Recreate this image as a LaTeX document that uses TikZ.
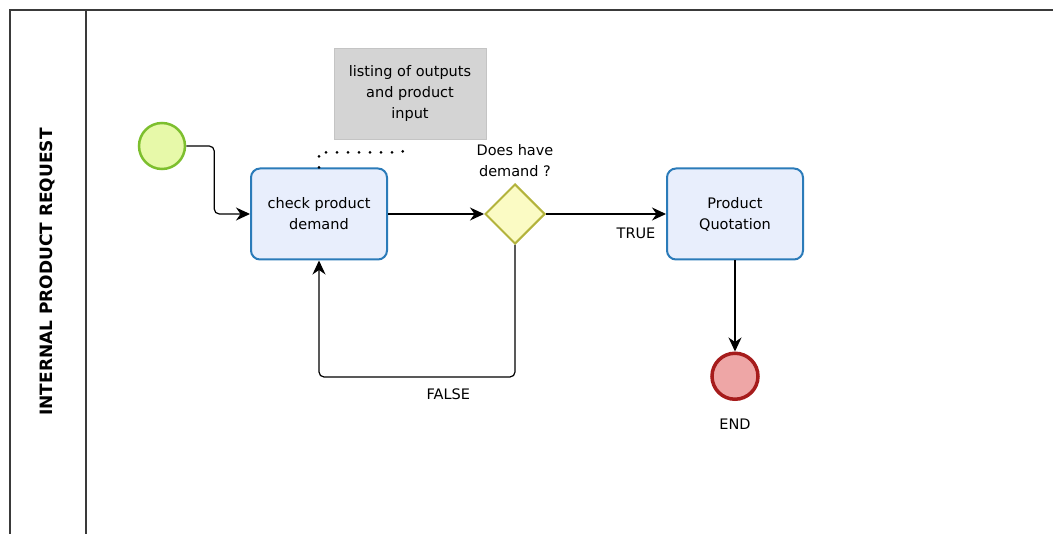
\documentclass[tikz,border=0pt]{standalone}
\usepackage{fontspec}
\setmainfont{DejaVu Sans}
\usepackage{tikz}
\usetikzlibrary{shapes,arrows,arrows.meta,positioning}
\newcommand{\bpmnfont}{\fontsize{14.5}{21}\selectfont}
\newcommand{\lanefont}{\fontsize{17}{20}\selectfont\bfseries}
\definecolor{taskfill}{HTML}{E8EEFC}
\definecolor{taskline}{HTML}{2B7BB9}
\definecolor{startfill}{HTML}{E7F9A9}
\definecolor{startline}{HTML}{7DBF2E}
\definecolor{endfill}{HTML}{EEA6A6}
\definecolor{endline}{HTML}{A61C1C}
\definecolor{gatefill}{HTML}{FBFBC4}
\definecolor{gateline}{HTML}{B3B33C}
\definecolor{notefill}{HTML}{D4D4D4}
\definecolor{noteline}{HTML}{C4C4C4}
\definecolor{frameline}{HTML}{3A3A3A}
\tikzstyle{task} = [rectangle, rounded corners=9pt, draw=taskline, line width=2pt, fill=taskfill, text=black, align=center, minimum width=136pt, minimum height=91pt, font=\bpmnfont]
\tikzstyle{startev} = [circle, draw=startline, line width=2.5pt, fill=startfill, minimum size=46pt, inner sep=0pt]
\tikzstyle{endev} = [circle, draw=endline, line width=3.5pt, fill=endfill, minimum size=46pt, inner sep=0pt]
\tikzstyle{gate} = [diamond, draw=gateline, line width=2pt, fill=gatefill, minimum width=60pt, minimum height=60pt, inner sep=0pt, aspect=1]
\tikzstyle{note} = [rectangle, draw=noteline, fill=notefill, minimum width=152pt, minimum height=91pt, align=center, font=\bpmnfont]
\tikzstyle{tedge}  = [draw, line width=1.2pt, >={Stealth[length=14pt,width=13pt,inset=4.5pt]}, ->, rounded corners=5pt]
\tikzstyle{assoc} = [draw, line width=3pt, line cap=round, dash pattern=on 0pt off 11pt]
\tikzstyle{frame} = [draw=frameline, line width=1.5pt]
\begin{document}
\begin{tikzpicture}[x=1pt, y=-1pt, font=\bpmnfont]
\useasboundingbox (0,0) rectangle (1053,534);

% pool and lane ==============================
\draw[frame] (1053,10) -- (10,10) -- (10,534);
\draw[frame] (86,10) -- (86,534);
\node[rotate=90, font=\lanefont] (lane) at (47,272) {INTERNAL PRODUCT REQUEST};

% flow elements ==============================
\node[startev] (start) at (162,146) {};
\node[task] (check) at (319,214) {check product\\demand};
\node[gate, right=96pt of check] (gw) {};
\node[above=3pt of gw, align=center] (gwlbl) {Does have\\demand ?};
\node[task, right=120pt of gw] (quote) {Product\\Quotation};
\node[endev, below=91pt of quote] (end) {};
\node[below=14pt of end] (endlbl) {END};
\node[note] (listing) at (410,94) {listing of outputs\\and product\\input};
\coordinate (noteend) at (410,147);

% edges
\path[tedge] (start.east) -- ++(28,0) |- (check.west);
\path[tedge] (check) -- (gw);
\path[tedge] (gw) -- node[pos=0.75, below=10pt] {TRUE} (quote);
\path[tedge] (gw.south) -- ++(0,132) -| node[pos=0.17, below=8pt] {FALSE} (check.south);
\path[tedge] (quote) -- (end);
\path[assoc] (check.north) -- ++(0,-15) -- ++(82,0) -- (noteend);

\end{tikzpicture}
\end{document}
